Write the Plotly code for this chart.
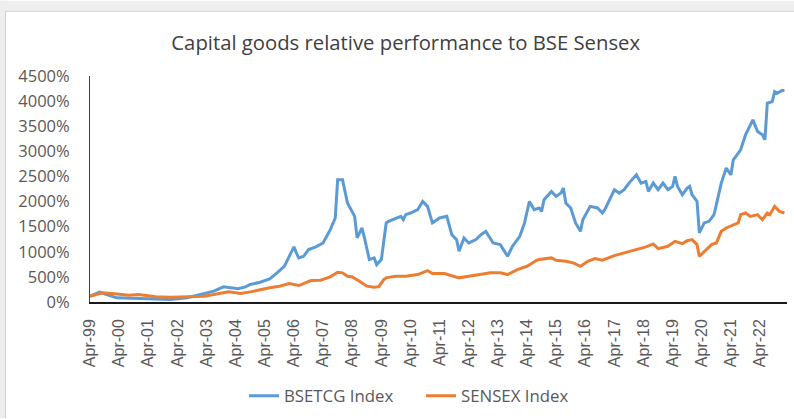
import plotly.graph_objects as go

# ---- data (values in %) ----
bse_dates = ["1999-04", "1999-08", "2000-03", "2000-12", "2001-07", "2002-01", "2002-08", "2003-02",
             "2003-07", "2003-11", "2004-02", "2004-05", "2004-08", "2004-10", "2005-02", "2005-06",
             "2005-09", "2005-12", "2006-02", "2006-04", "2006-05", "2006-06", "2006-08", "2006-10",
             "2007-01", "2007-03", "2007-04", "2007-07", "2007-09", "2007-10", "2007-12", "2008-02",
             "2008-05", "2008-06", "2008-08", "2008-09", "2008-11", "2009-01", "2009-02", "2009-04",
             "2009-05", "2009-06", "2009-07", "2009-09", "2009-12", "2010-01", "2010-02", "2010-04",
             "2010-07", "2010-09", "2010-11", "2011-01", "2011-04", "2011-07", "2011-09", "2011-11",
             "2011-12", "2012-02", "2012-04", "2012-07", "2012-09", "2012-11", "2013-02", "2013-05",
             "2013-08", "2013-10", "2014-01", "2014-03", "2014-05", "2014-07", "2014-09", "2014-10",
             "2014-11", "2015-02", "2015-04", "2015-06", "2015-07", "2015-08", "2015-10", "2015-12",
             "2016-02", "2016-03", "2016-06", "2016-09", "2016-11", "2016-12", "2017-02", "2017-04",
             "2017-06", "2017-08", "2017-10", "2018-01", "2018-03", "2018-05", "2018-06", "2018-08",
             "2018-10", "2018-12", "2019-02", "2019-04", "2019-05", "2019-06", "2019-08", "2019-10",
             "2019-11", "2019-12", "2020-02", "2020-03", "2020-05", "2020-07", "2020-09", "2020-12",
             "2021-02", "2021-04", "2021-05", "2021-08", "2021-10", "2022-01", "2022-03", "2022-05",
             "2022-06", "2022-07", "2022-09", "2022-10", "2022-11", "2023-01", "2023-02"]
bse_values = [115, 195, 83, 70, 50, 50, 83, 149,
              215, 302, 290, 265, 300, 348, 394, 461,
              580, 711, 910, 1097, 978, 878, 910, 1043,
              1097, 1143, 1176, 1441, 1673, 2434, 2434, 1971,
              1705, 1276, 1474, 1276, 845, 878, 745, 845,
              1200, 1574, 1606, 1640, 1705, 1640, 1739, 1772,
              1838, 2003, 1904, 1574, 1673, 1705, 1341, 1242,
              1010, 1276, 1176, 1242, 1341, 1407, 1176, 1143,
              910, 1109, 1308, 1574, 2003, 1838, 1872, 1804,
              2037, 2202, 2103, 2169, 2269, 1971, 1872, 1574,
              1407, 1639, 1904, 1872, 1772, 1838, 2037, 2235,
              2169, 2235, 2368, 2533, 2368, 2400, 2202, 2368,
              2235, 2368, 2235, 2301, 2500, 2301, 2136, 2269,
              2301, 2136, 2003, 1375, 1574, 1606, 1739, 2368,
              2667, 2533, 2831, 3030, 3328, 3626, 3394, 3328,
              3229, 3958, 3990, 4189, 4157, 4209, 4209]

sensex_dates = ["1999-04", "1999-09", "2000-02", "2000-08", "2000-12", "2001-07", "2002-01", "2002-08",
                "2003-03", "2003-07", "2004-01", "2004-04", "2004-06", "2004-10", "2005-02", "2005-06",
                "2005-10", "2006-02", "2006-06", "2006-11", "2007-03", "2007-07", "2007-10", "2007-12",
                "2008-02", "2008-04", "2008-07", "2008-10", "2009-01", "2009-03", "2009-05", "2009-06",
                "2009-08", "2009-10", "2010-02", "2010-07", "2010-11", "2011-01", "2011-06", "2011-10",
                "2011-12", "2012-04", "2012-09", "2013-01", "2013-05", "2013-08", "2013-12", "2014-04",
                "2014-08", "2014-09", "2015-02", "2015-04", "2015-08", "2015-11", "2016-02", "2016-05",
                "2016-08", "2016-11", "2017-04", "2017-08", "2017-12", "2018-03", "2018-05", "2018-08",
                "2018-10", "2019-02", "2019-05", "2019-08", "2019-10", "2019-12", "2020-02", "2020-03",
                "2020-05", "2020-08", "2020-10", "2020-12", "2021-02", "2021-05", "2021-07", "2021-08",
                "2021-10", "2021-12", "2022-03", "2022-05", "2022-07", "2022-08", "2022-10", "2022-12",
                "2023-02"]
sensex_values = [115, 183, 163, 135, 149, 103, 95, 103,
                 115, 149, 203, 183, 169, 202, 248, 282,
                 315, 368, 328, 427, 434, 500, 593, 580,
                 513, 500, 414, 315, 295, 305, 447, 481,
                 500, 513, 513, 546, 626, 566, 566, 513,
                 481, 513, 546, 580, 580, 546, 646, 711,
                 831, 845, 878, 831, 811, 779, 711, 811,
                 864, 831, 924, 977, 1043, 1077, 1097, 1156,
                 1063, 1109, 1208, 1162, 1220, 1242, 1143, 910,
                 1010, 1143, 1176, 1407, 1474, 1540, 1574, 1740,
                 1772, 1705, 1739, 1639, 1772, 1739, 1904, 1804,
                 1772]

y_ticks = [0, 500, 1000, 1500, 2000, 2500, 3000, 3500, 4000, 4500]
y_tick_labels = ["0%", "500%", "1000%", "1500%", "2000%", "2500%", "3000%", "3500%", "4000%", "4500%"]

# ---- figure ----
W, H = 794, 419
L, R, T, B = 90, 7, 75.5, 116.5
PW, PH = W - L - R, H - T - B


def px(X):
    return (X - L) / PW


def py(Y):
    return (H - B - Y) / PH


fig = go.Figure()
fig.add_trace(go.Scatter(x=bse_dates, y=bse_values, mode="lines", name="BSETCG Index",
                         line=dict(color="#5B9BD5", width=3)))
fig.add_trace(go.Scatter(x=sensex_dates, y=sensex_values, mode="lines", name="SENSEX Index",
                         line=dict(color="#ED7D31", width=3)))

txt = "#595959"
fig.update_layout(
    width=W, height=H,
    margin=dict(l=L, r=R, t=T, b=B, autoexpand=False),
    paper_bgcolor="white", plot_bgcolor="white",
    title=dict(text="Capital goods relative performance to BSE Sensex",
               x=0.511, xref="container", xanchor="center",
               y=1 - 43 / H, yref="container", yanchor="middle",
               font=dict(family="Open Sans", size=20.3, color="#404040")),
    xaxis=dict(type="date", range=["1999-04-01", "2023-03-05"],
               tick0="1999-04-01", dtick="M12", tickformat="%b-%y",
               tickangle=-90, showgrid=False, zeroline=False,
               showline=True, linecolor="#1a1a1a", linewidth=1.5,
               ticks="", ticklabelstandoff=9,
               tickfont=dict(family="Liberation Sans", size=16, color=txt)),
    yaxis=dict(range=[0, 4500], tickvals=y_ticks, ticktext=y_tick_labels,
               showgrid=False, zeroline=False,
               showline=True, linecolor="#404040", linewidth=1,
               ticks="", ticklabelstandoff=16,
               tickfont=dict(family="Open Sans", size=16.5, color=txt)),
    legend=dict(orientation="h", x=px(244), xanchor="left", y=py(396.7), yanchor="middle",
                font=dict(family="Open Sans", size=16.8, color=txt),
                entrywidth=132, entrywidthmode="pixels",
                bgcolor="rgba(0,0,0,0)"),
    showlegend=True,
    shapes=[
        dict(type="rect", xref="paper", yref="paper", x0=px(0), x1=px(W), y0=py(0), y1=py(10),
             fillcolor="#eeeeee", line=dict(width=0), layer="below"),
        dict(type="rect", xref="paper", yref="paper", x0=px(0), x1=px(5), y0=py(0), y1=py(H),
             fillcolor="#eeeeee", line=dict(width=0), layer="below"),
        dict(type="line", xref="paper", yref="paper", x0=px(5), x1=px(W), y0=py(10.5), y1=py(10.5),
             line=dict(color="#cfcfcf", width=1)),
        dict(type="line", xref="paper", yref="paper", x0=px(5.5), x1=px(5.5), y0=py(10.5), y1=py(H),
             line=dict(color="#cfcfcf", width=1)),
    ],
)

fig.write_html("out.html", config={"displayModeBar": False},
               post_script="document.body.style.margin='0px';")
